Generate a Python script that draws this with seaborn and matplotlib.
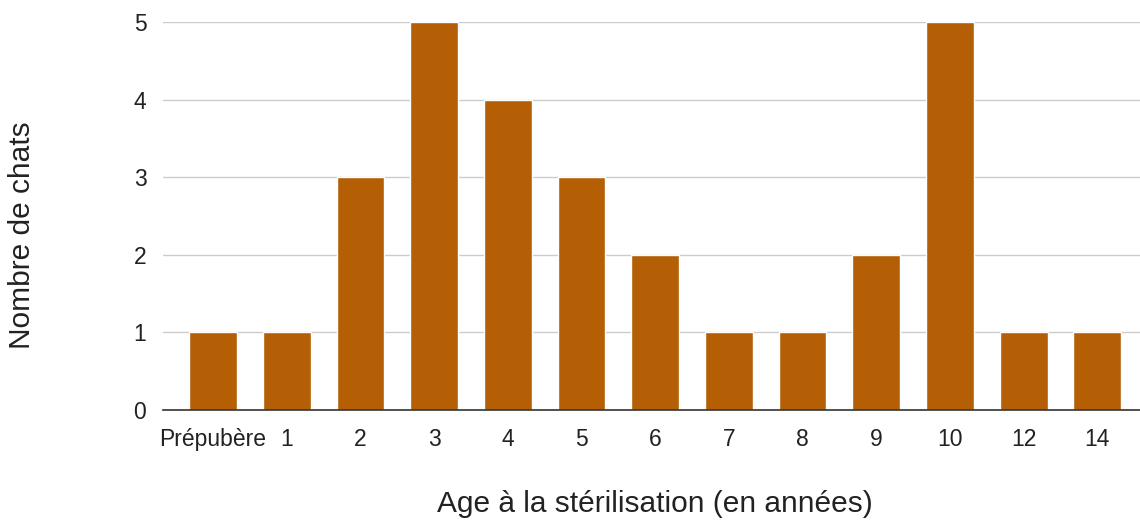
import pandas as pd
import seaborn as sns
import matplotlib.pyplot as plt

# Data
ages = ['Prépubère', '1', '2', '3', '4', '5', '6', '7', '8', '9', '10', '12', '14']
chats = [1, 1, 3, 5, 4, 3, 2, 1, 1, 2, 5, 1, 1]

df = pd.DataFrame({'age': ages, 'chats': chats})

sns.set_theme(style='white')
plt.rcParams['font.family'] = ['Liberation Sans', 'DejaVu Sans']

fig = plt.figure(figsize=(11.4, 5.25), dpi=100)
ax = fig.add_axes([0.143, 0.219, 0.857, 0.739])

sns.barplot(data=df, x='age', y='chats', color='#b45f06', saturation=1,
            width=0.65, ax=ax, zorder=3)

ax.set_xlim(-0.68, 12.58)
ax.set_ylim(0, 5)
ax.set_yticks(range(0, 6))
ax.yaxis.grid(True, color='#cccccc', linewidth=1, zorder=0)
for s in ['top', 'right', 'left']:
    ax.spines[s].set_visible(False)
ax.spines['bottom'].set_color('#333333')
ax.spines['bottom'].set_linewidth(1.2)
ax.spines['bottom'].set_zorder(4)
ax.tick_params(axis='both', length=0, labelsize=16.5, colors='#222222')
ax.tick_params(axis='x', pad=13)
ax.tick_params(axis='y', pad=12)

ax.set_xlabel('Age à la stérilisation (en années)', fontsize=21.5, color='#222222')
ax.set_ylabel('Nombre de chats', fontsize=21.5, color='#222222')
ax.xaxis.set_label_coords(0.5036, -0.205)
ax.yaxis.set_label_coords(-0.13, 0.451)

fig.savefig('out.png', dpi=100)
